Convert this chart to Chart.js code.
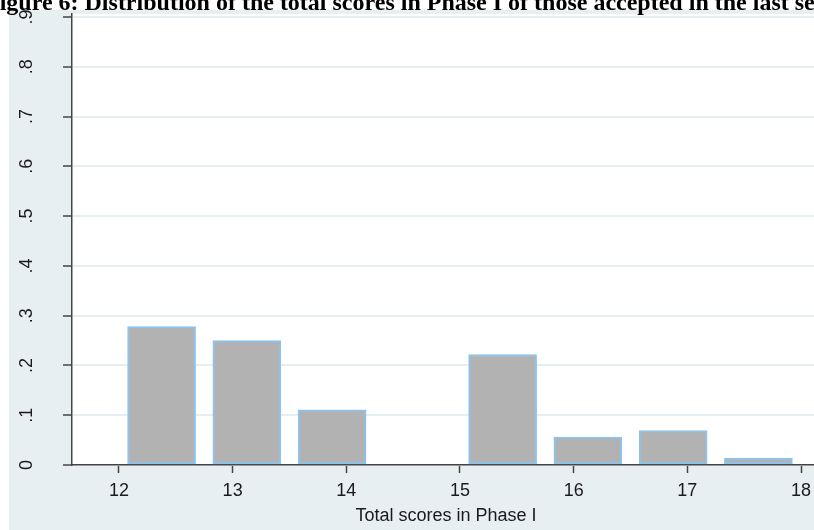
<!DOCTYPE html>
<html>
<head>
<meta charset="utf-8">
<script src="https://cdn.jsdelivr.net/npm/chart.js@4/dist/chart.umd.min.js"></script>
<style>
  html, body { margin: 0; padding: 0; background: #fff; overflow: hidden; width: 814px; height: 530px; }
  #wrap { position: absolute; left: 0; top: 0; width: 820px; height: 530px; }
  #title {
    position: absolute; left: -15px; top: -10px; white-space: nowrap;
    font: bold 24px "Liberation Serif", "Times New Roman", serif; color: #000;
    line-height: 24px; z-index: 2;
  }
</style>
</head>
<body>
<div id="wrap"><canvas id="histChart" width="820" height="530"></canvas></div>
<div id="title">Figure 6: Distribution of the total scores in Phase I of those accepted in the last semester</div>
<script>
// Histogram - fraction of accepted applicants by total Phase I score

const binCenters = [12.375, 13.125, 13.875, 14.625, 15.375, 16.125, 16.875, 17.625];
const fractions = [0.278, 0.25, 0.111, 0, 0.222, 0.056, 0.069, 0.014];
const xTicks = [12, 13, 14, 15, 16, 17, 18];
const yTicks = [0, 0.1, 0.2, 0.3, 0.4, 0.5, 0.6, 0.7, 0.8, 0.9];
const yTickLabels = ["0", ".1", ".2", ".3", ".4", ".5", ".6", ".7", ".8", ".9"];

const bgBlue = "#e8eff2";
const labelFont = { family: "'Liberation Sans', Arial, sans-serif", size: 18 };

// Stata-like background: bluish graph region, white plot region
const backgroundPlugin = {
  id: "stataBackground",
  beforeDraw(chart) {
    const { ctx, chartArea } = chart;
    ctx.save();
    ctx.fillStyle = "#fff";
    ctx.fillRect(0, 0, chart.width, chart.height);
    ctx.fillStyle = bgBlue;
    ctx.fillRect(9, 10, chart.width - 9, chart.height - 10);
    ctx.fillStyle = "#fff";
    ctx.fillRect(chartArea.left, chartArea.top, chartArea.right - chartArea.left, chartArea.bottom - chartArea.top);
    ctx.restore();
  },
};

// y tick labels rotated (read bottom to top)
const rotatedYLabels = {
  id: "rotatedYLabels",
  afterDraw(chart) {
    const { ctx } = chart;
    const yScale = chart.scales.y;
    ctx.save();
    ctx.fillStyle = "#1a1a1a";
    ctx.font = labelFont.size + "px " + labelFont.family;
    ctx.textAlign = "center";
    ctx.textBaseline = "middle";
    yTicks.forEach((v, i) => {
      const y = yScale.getPixelForValue(v);
      ctx.save();
      ctx.translate(27, y);
      ctx.rotate(-Math.PI / 2);
      ctx.fillText(yTickLabels[i], 0, 0);
      ctx.restore();
    });
    ctx.restore();
  },
};

const ctx = document.getElementById("histChart");

new Chart(ctx, {
  type: "bar",
  data: {
    datasets: [
      {
        data: binCenters.map((x, i) => ({ x: x, y: fractions[i] })),
        backgroundColor: "#b2b2b2",
        borderColor: "#8cc3ec",
        borderWidth: 2,
        borderSkipped: false,
        barThickness: 68,
      },
    ],
  },
  options: {
    responsive: false,
    animation: false,
    devicePixelRatio: 1,
    layout: { padding: { left: 9, top: 14, right: 0, bottom: 0 } },
    plugins: {
      legend: { display: false },
      tooltip: { enabled: false },
    },
    scales: {
      x: {
        type: "linear",
        offset: false,
        min: 11.587,
        max: 18.167,
        afterBuildTicks: (scale) => {
          scale.ticks = xTicks.map((v) => ({ value: v }));
        },
        afterFit: (scale) => {
          scale.height = 65;
        },
        grid: {
          offset: false,
          drawOnChartArea: false,
          tickColor: "#444",
          tickLength: 8,
          tickWidth: 1.5,
        },
        border: { color: "#444", width: 1.5 },
        ticks: {
          color: "#1a1a1a",
          font: labelFont,
          padding: 7,
          maxRotation: 0,
          callback: (v) => String(v),
        },
        title: {
          display: true,
          text: "Total scores in Phase I",
          color: "#1a1a1a",
          font: labelFont,
          padding: { top: 0, bottom: 3 },
        },
      },
      y: {
        min: 0,
        max: 0.906,
        afterBuildTicks: (scale) => {
          scale.ticks = yTicks.map((v) => ({ value: v }));
        },
        afterFit: (scale) => {
          scale.width = 63;
        },
        grid: {
          color: "#e6eef1",
          lineWidth: 2,
          tickColor: "#444",
          tickLength: 9,
          tickWidth: 1.5,
        },
        border: { color: "#444", width: 1.5 },
        ticks: { display: false },
      },
    },
  },
  plugins: [backgroundPlugin, rotatedYLabels],
});
</script>
</body>
</html>
